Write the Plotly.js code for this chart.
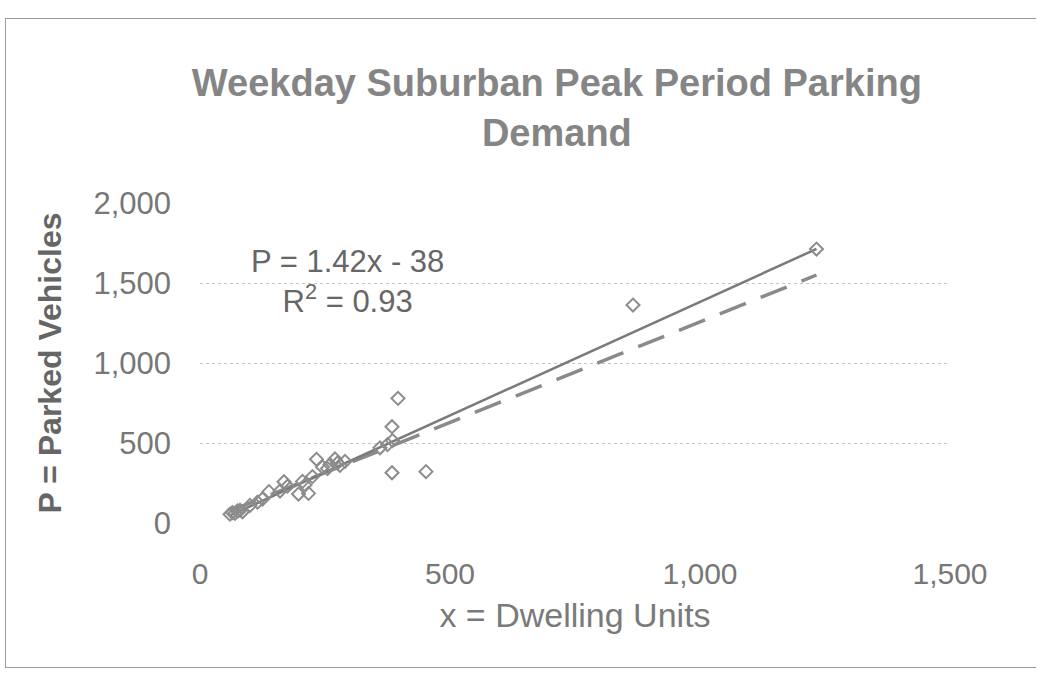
<!DOCTYPE html>
<html>
<head>
<meta charset="utf-8">
<script src="https://cdn.plot.ly/plotly-3.0.1.min.js"></script>
<style>
  html, body { margin: 0; padding: 0; background: #ffffff; }
  #chart { width: 1037px; height: 679px; }
  #frame { position: absolute; left: 5px; top: 18px; width: 1030px; height: 648px;
           border: 1px solid #9a9a9a; border-right: none; pointer-events: none; }
</style>
</head>
<body>
<div id="chart"></div>
<div id="frame"></div>
<script>
// Observed sites: dwelling units (x) vs parked vehicles (P)
const dwellingUnits = [60, 65, 70, 75, 80, 85, 100, 115, 125, 138, 160, 168, 175, 197, 205, 210, 217, 225, 233, 245, 255, 260, 270, 275, 280, 290, 360, 375, 384, 384, 385, 396, 452, 866, 1233];
const parkedVehicles = [55, 65, 60, 75, 80, 70, 110, 130, 150, 196, 200, 258, 230, 181, 260, 237, 185, 290, 398, 350, 340, 365, 400, 375, 360, 385, 470, 490, 602, 314, 515, 779, 321, 1362, 1712];

// Fitted trend line (P = 1.42x - 38), endpoints
const trendX = [60, 1233];
const trendY = [47, 1713];

// Dashed comparison line, endpoints
const dashX = [60, 1233];
const dashY = [75, 1550];

const xTickVals = [0, 500, 1000, 1500];
const xTickText = ['0', '500', '1,000', '1,500'];
const yTickVals = [0, 500, 1000, 1500, 2000];
const yTickText = ['0', '500', '1,000', '1,500', '2,000'];

const font = 'Liberation Sans, Arial, sans-serif';

const traces = [
  {
    x: dashX, y: dashY, mode: 'lines', type: 'scatter',
    line: { color: '#8a8a8a', width: 3.5, dash: '28px,16px' },
    hoverinfo: 'skip', showlegend: false
  },
  {
    x: trendX, y: trendY, mode: 'lines', type: 'scatter',
    line: { color: '#7a7a7a', width: 2.5 },
    hoverinfo: 'skip', showlegend: false
  },
  {
    x: dwellingUnits, y: parkedVehicles, mode: 'markers', type: 'scatter',
    marker: { symbol: 'diamond-open', size: 10, color: '#8c8c8c', line: { width: 2, color: '#8c8c8c' } },
    showlegend: false
  }
];

const layout = {
  width: 1037, height: 679,
  paper_bgcolor: '#ffffff', plot_bgcolor: '#ffffff',
  margin: { l: 200, r: 87, t: 203, b: 156 },
  font: { family: font, color: '#6e6e6e' },
  title: {
    text: 'Weekday Suburban Peak Period Parking<br>Demand',
    font: { family: font, size: 38, color: '#858585', weight: 'bold' },
    x: 0.537, xanchor: 'center', xref: 'container',
    y: 0.858, yanchor: 'top', yref: 'container'
  },
  xaxis: {
    range: [0, 1500],
    tickvals: xTickVals, ticktext: xTickText,
    tickfont: { family: font, size: 30, color: '#777777' },
    showgrid: false, zeroline: false, showline: false, ticks: '',
    ticklabelstandoff: 30,
    title: { text: 'x = Dwelling Units', font: { family: font, size: 34, color: '#7a7a7a' }, standoff: 14 }
  },
  yaxis: {
    range: [0, 2000],
    tickvals: yTickVals, ticktext: yTickText,
    tickfont: { family: font, size: 31, color: '#777777' },
    showgrid: true, gridcolor: '#c4c4c4', griddash: 'dot', gridwidth: 1,
    zeroline: false, showline: false, ticks: '',
    ticklabelstandoff: 28,
    title: { text: 'P = Parked Vehicles', font: { family: font, size: 32, color: '#666666', weight: 'bold' }, standoff: 22 }
  },
  annotations: [
    {
      x: 294, y: 1509, xref: 'x', yref: 'y',
      text: 'P = 1.42x - 38<br>R<sup>2</sup> = 0.93',
      showarrow: false, align: 'center',
      font: { family: font, size: 31, color: '#666666' }
    }
  ]
};

Plotly.newPlot('chart', traces, layout, { displayModeBar: false, staticPlot: true });
</script>
</body>
</html>
